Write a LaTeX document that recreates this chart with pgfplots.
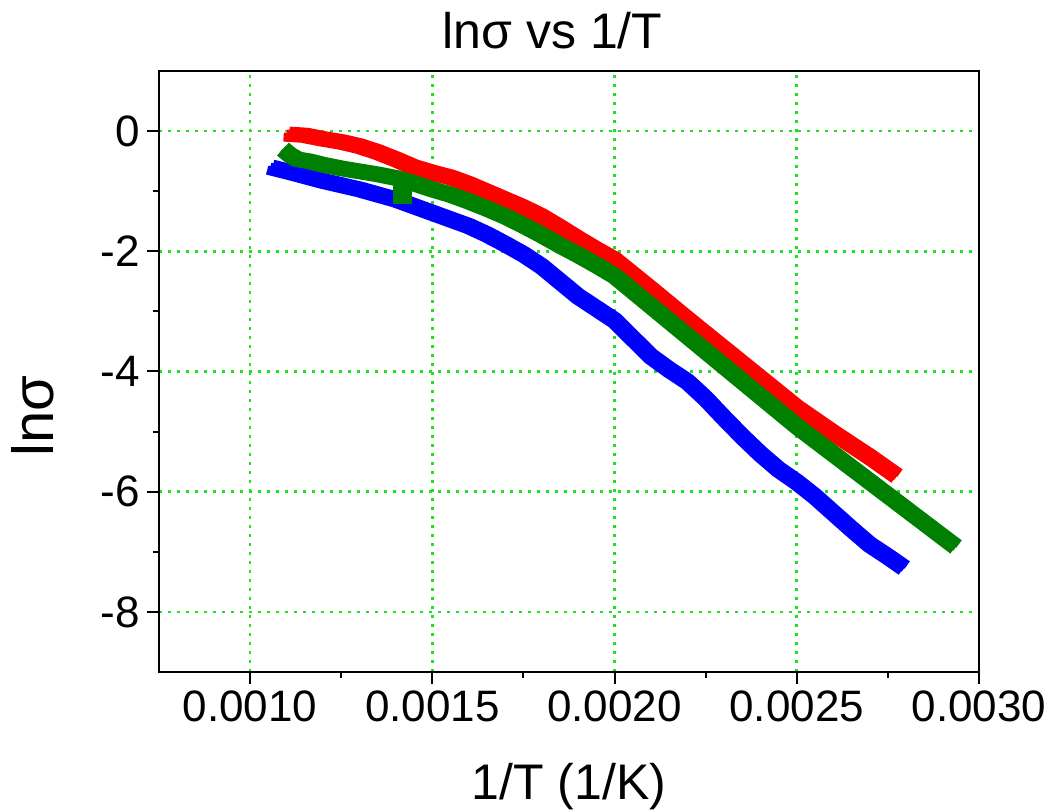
\documentclass[border=0pt]{standalone}
\usepackage{fontspec}
\setmainfont{Liberation Sans}
\usepackage{pgfplots}
\usepackage{pgfplotstable}
\pgfplotsset{compat=1.18}
\definecolor{gridgreen}{RGB}{30,225,30}
\definecolor{sred}{RGB}{255,0,0}
\definecolor{sgreen}{RGB}{0,128,0}
\definecolor{sblue}{RGB}{0,0,255}

\pgfplotstableread{
x y
0.001055 -0.60
0.00112 -0.70
0.00120 -0.83
0.00130 -0.97
0.00140 -1.14
0.00150 -1.36
0.00160 -1.58
0.00165 -1.72
0.00170 -1.88
0.00175 -2.05
0.00180 -2.25
0.00185 -2.50
0.00190 -2.75
0.00195 -2.95
0.00200 -3.15
0.00205 -3.45
0.00210 -3.75
0.00215 -3.97
0.00220 -4.17
0.00225 -4.45
0.00230 -4.77
0.00235 -5.08
0.00240 -5.37
0.00245 -5.63
0.00250 -5.84
0.00255 -6.08
0.00260 -6.35
0.00265 -6.62
0.00270 -6.88
0.00275 -7.08
0.002795 -7.27
}\bluedata

\pgfplotstableread{
x y
0.00110 -0.05
0.00115 -0.07
0.00120 -0.13
0.00125 -0.18
0.00130 -0.25
0.00135 -0.35
0.00140 -0.47
0.00145 -0.60
0.00150 -0.69
0.00155 -0.77
0.00160 -0.88
0.00165 -1.01
0.00170 -1.14
0.00175 -1.27
0.00180 -1.42
0.00185 -1.60
0.00190 -1.79
0.00195 -1.97
0.00200 -2.14
0.00210 -2.63
0.00220 -3.13
0.00230 -3.62
0.00240 -4.11
0.00250 -4.60
0.00260 -5.02
0.00270 -5.42
0.002775 -5.74
}\reddata

\pgfplotstableread{
x y
0.00109 -0.30
0.00111 -0.40
0.00113 -0.47
0.00116 -0.50
0.00120 -0.56
0.00125 -0.62
0.00130 -0.67
0.00135 -0.72
0.00140 -0.78
0.00145 -0.87
0.00150 -0.97
0.00155 -1.06
0.00160 -1.17
0.00165 -1.29
0.00170 -1.42
0.00175 -1.57
0.00180 -1.73
0.00185 -1.90
0.00190 -2.06
0.00195 -2.23
0.00200 -2.41
0.00210 -2.91
0.00220 -3.41
0.00230 -3.91
0.00240 -4.41
0.00250 -4.91
0.00260 -5.37
0.00270 -5.83
0.00280 -6.29
0.00290 -6.75
0.002937 -6.92
}\greendata

\begin{document}
\begin{tikzpicture}
\path[use as bounding box] (-79.5pt,-70pt) rectangle (448pt,336pt);
\begin{axis}[
  at={(0,0)}, anchor=south west,
  scale only axis, width=410pt, height=300.5pt,
  xmin=0.00075, xmax=0.0030, ymin=-9, ymax=1,
  xtick={0.001,0.0015,0.002,0.0025,0.003},
  xticklabels={0.0010,0.0015,0.0020,0.0025,0.0030},
  ytick={-8,-6,-4,-2,0},
  minor x tick num=1, minor y tick num=1,
  scaled x ticks=false,
  tick align=outside, xtick pos=bottom, ytick pos=left,
  major tick length=6pt, minor tick length=3pt,
  every tick/.style={black, line width=1pt},
  axis line style={line width=1pt},
  grid=major,
  major grid style={gridgreen, line width=1.3pt, dash pattern=on 1.4pt off 3.1pt},
  tick label style={font=\fontsize{22}{26}\selectfont},
  /pgf/number format/assume math mode=true,
  title={lnσ vs 1/T},
  title style={font=\fontsize{25}{30}\selectfont, at={(axis description cs:0.48,1)}, anchor=base, yshift=5pt},
  xlabel={1/T (1/K)},
  xlabel style={font=\fontsize{25}{30}\selectfont, at={(axis description cs:0.5,0)}, anchor=base, yshift=-64pt},
  ylabel={lnσ},
  ylabel style={font=\fontsize{29}{34}\selectfont, at={(axis description cs:-0.1537,0.426)}, anchor=center, rotate=0},
  band/.style={line width=4.5pt, line join=round, line cap=butt, mark=none},
]
\addplot[band, sblue, xshift=1.5pt, yshift=1.5pt] table {\bluedata};
\addplot[band, sblue] table {\bluedata};
\addplot[band, sblue, xshift=-1.5pt, yshift=-1.5pt] table {\bluedata};
\addplot[band, sred, xshift=1.5pt, yshift=1.5pt] table {\reddata};
\addplot[band, sred] table {\reddata};
\addplot[band, sred, xshift=-1.5pt, yshift=-1.5pt] table {\reddata};
\addplot[band, sgreen, xshift=1.5pt, yshift=1.5pt] table {\greendata};
\addplot[band, sgreen] table {\greendata};
\addplot[band, sgreen, xshift=-1.5pt, yshift=-1.5pt] table {\greendata};
\addplot[only marks, mark=square*, sgreen, mark size=4.5pt] coordinates {(0.001418,-1.05)};
\end{axis}
\end{tikzpicture}
\end{document}
